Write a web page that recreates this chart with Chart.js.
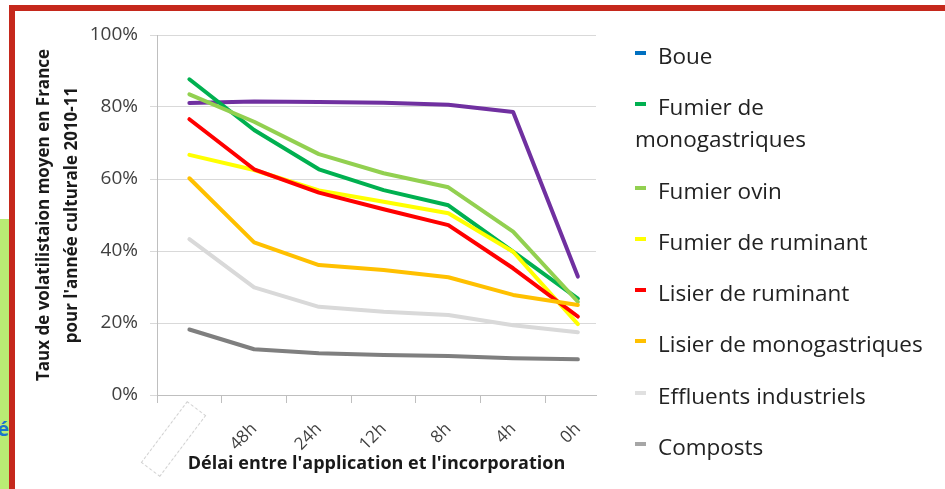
<!DOCTYPE html>
<html>
<head>
<meta charset="utf-8">
<script src="https://cdn.jsdelivr.net/npm/chart.js@4.4.1/dist/chart.umd.min.js"></script>
<style>
  html, body { margin: 0; padding: 0; background: #fff; }
  #cadre { position: relative; width: 945px; height: 489px; overflow: hidden; font-family: "Open Sans", sans-serif; }
  #graphe { position: absolute; left: 0; top: 0; }
  .bord-haut { position: absolute; left: 9px; top: 5px; width: 936px; height: 6px; background: #c5281c; }
  .bord-gauche { position: absolute; left: 9px; top: 5px; width: 6px; height: 484px; background: #c5281c; }
  .bande { position: absolute; left: 0; top: 219px; width: 9px; height: 270px; background: #b9ec74; overflow: hidden; }
  .bande span { position: absolute; right: 0; top: 196px; color: #1b75cc; font-size: 20px; font-weight: bold; }
  .boite { position: absolute; left: 135px; top: 427px; width: 75px; height: 22px; border: 1px dashed #d0d0d0; transform: rotate(-53deg); }
  #legende { position: absolute; left: 635px; top: 40px; width: 296px; }
  .item { font-size: 22.5px; line-height: 32px; color: #222; margin-bottom: 19.3px; }
  .trait { display: inline-block; width: 11px; height: 4px; margin-right: 12px; vertical-align: middle; position: relative; top: -5px; }
</style>
</head>
<body>
<div id="cadre">
  <canvas id="graphe" width="945" height="489"></canvas>
  <div class="boite"></div>
  <div class="bande"><span>é</span></div>
  <div class="bord-haut"></div>
  <div class="bord-gauche"></div>
  <div id="legende"></div>
</div>
<script>
// Données (% de volatilisation)
const delais = ["", "48h", "24h", "12h", "8h", "4h", "0h"];
const nomsSeries = ["Boue", "Fumier de monogastriques", "Fumier ovin", "Fumier de ruminant",
  "Lisier de ruminant", "Lisier de monogastriques", "Effluents industriels", "Composts"];

const boue = [81.1, 81.5, 81.4, 81.2, 80.6, 78.6, 32.9];
const fumierMono = [87.7, 73.6, 62.7, 56.9, 52.7, 39.8, 26.8];
const fumierOvin = [83.5, 75.9, 66.9, 61.6, 57.7, 45.4, 25.9];
const fumierRumi = [66.7, 62.5, 56.8, 53.7, 50.5, 39.8, 19.7];
const lisierRumi = [76.6, 62.7, 56.2, 51.6, 47.2, 35.2, 21.8];
const lisierMono = [60.2, 42.4, 36.1, 34.7, 32.7, 27.8, 25.0];
const effluents = [43.3, 29.9, 24.5, 23.1, 22.2, 19.4, 17.4];
const composts = [18.2, 12.7, 11.6, 11.1, 10.8, 10.2, 9.9];

const yTicks = [0, 20, 40, 60, 80, 100];

// Couleurs
const couleursLignes = ["#7030a0", "#00b050", "#92d050", "#ffff00", "#ff0000", "#ffc000", "#d9d9d9", "#7f7f7f"];
const couleursLegende = ["#0070c0", "#00b050", "#92d050", "#ffff00", "#ff0000", "#ffc000", "#e0e0e0", "#a6a6a6"];

const series = [boue, fumierMono, fumierOvin, fumierRumi, lisierRumi, lisierMono, effluents, composts];

const datasets = series.map((vals, i) => ({
  label: nomsSeries[i],
  data: vals.map((v, j) => ({ x: j, y: v })),
  borderColor: couleursLignes[i],
  backgroundColor: couleursLignes[i],
  borderWidth: 4,
  pointRadius: 0,
  tension: 0,
  borderCapStyle: "round",
  borderJoinStyle: "round",
  order: -i
}));

const police = "'Open Sans', sans-serif";

new Chart(document.getElementById("graphe"), {
  type: "line",
  data: { datasets: datasets },
  options: {
    responsive: false,
    animation: false,
    layout: { padding: { left: 0, top: 35, right: 349, bottom: 0 } },
    plugins: { legend: { display: false }, tooltip: { enabled: false } },
    scales: {
      x: {
        type: "linear",
        min: -0.5,
        max: 6.28,
        afterBuildTicks: s => { s.ticks = delais.map((_, i) => ({ value: i })); },
        afterFit: s => { s.height = 94; },
        ticks: {
          autoSkip: false,
          minRotation: 45,
          maxRotation: 45,
          padding: 16,
          color: "#404040",
          font: { family: police, size: 17 },
          callback: (v, i) => delais[i]
        },
        grid: { offset: true, drawOnChartArea: false, tickLength: 8, color: "#bfbfbf" },
        border: { color: "#bfbfbf" },
        title: {
          display: true,
          text: "Délai entre l'application et l'incorporation",
          color: "#1a1a1a",
          font: { family: police, size: 18, weight: "bold" },
          padding: { top: 0, bottom: 14 }
        }
      },
      y: {
        min: 0,
        max: 100,
        afterBuildTicks: s => { s.ticks = yTicks.map(v => ({ value: v })); },
        afterFit: s => { s.width = 157; },
        ticks: {
          padding: 12,
          color: "#404040",
          font: { family: police, size: 19 },
          callback: v => v + "%"
        },
        grid: { color: "#d9d9d9", tickLength: 7 },
        border: { color: "#bfbfbf" },
        title: {
          display: true,
          text: ["Taux de volatilistaion moyen en France", "pour l'année culturale 2010-11"],
          color: "#1a1a1a",
          font: { family: police, size: 17, weight: "bold", lineHeight: "28px" },
          padding: { top: 30, bottom: 0 }
        }
      }
    }
  }
});

// Légende à droite
const legende = document.getElementById("legende");
nomsSeries.forEach((nom, i) => {
  const div = document.createElement("div");
  div.className = "item";
  div.innerHTML = `<span class="trait" style="background:${couleursLegende[i]}"></span>${nom}`;
  legende.appendChild(div);
});
</script>
</body>
</html>
